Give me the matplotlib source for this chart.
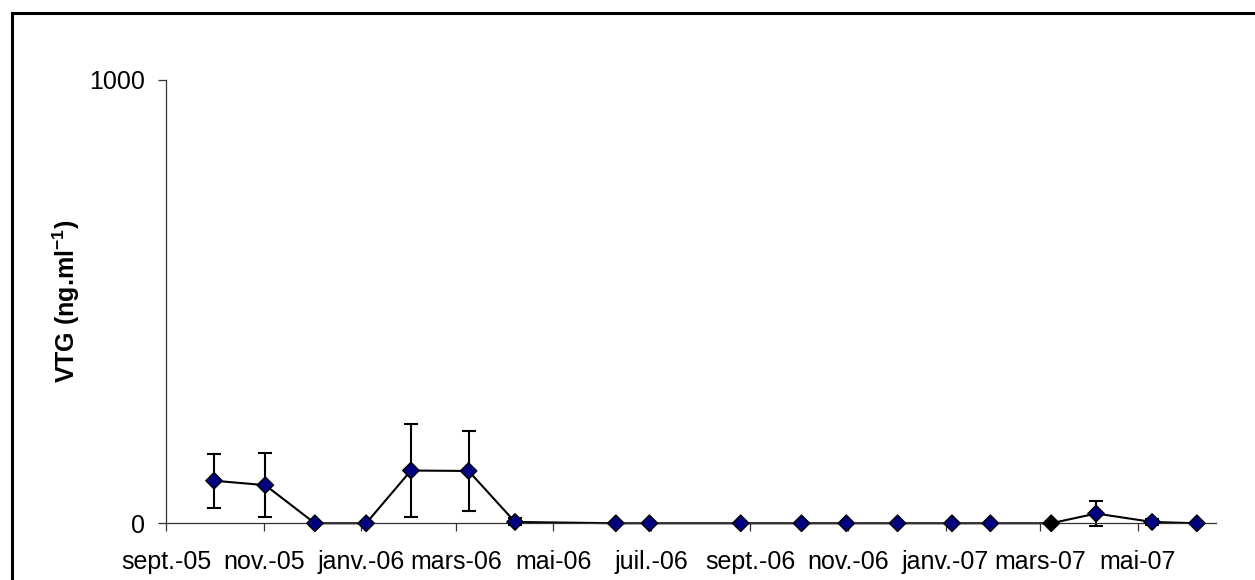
import datetime as dt
import matplotlib
matplotlib.use("Agg")
import matplotlib.pyplot as plt
from matplotlib.patches import Rectangle

plt.rcParams["font.family"] = ["Liberation Sans", "DejaVu Sans"]
plt.rcParams["mathtext.fontset"] = "custom"
plt.rcParams["mathtext.rm"] = "Liberation Sans"
plt.rcParams["mathtext.bf"] = "Liberation Sans:bold"

# sampling dates and VTG values (ng/ml) with error bars
dates = [
    "2005-10-01", "2005-11-02", "2005-12-03", "2006-01-04", "2006-02-01",
    "2006-03-09", "2006-04-07", "2006-06-09", "2006-06-30", "2006-08-26",
    "2006-10-03", "2006-10-31", "2006-12-02", "2007-01-05", "2007-01-29",
    "2007-03-08", "2007-04-05", "2007-05-10", "2007-06-07",
]
vtg = [96, 86, 0, 0, 119, 118, 3, 0, 0, 0, 0, 0, 0, 0, 0, 0, 22, 3, 0]
vtg_err = [61, 72, 0, 0, 104, 91, 8, 0, 0, 0, 0, 0, 0, 0, 0, 0, 28, 7, 0]
black_point = "2007-03-08"

tick_dates = [
    "2005-09-01", "2005-11-01", "2006-01-01", "2006-03-01", "2006-05-01",
    "2006-07-01", "2006-09-01", "2006-11-01", "2007-01-01", "2007-03-01",
    "2007-05-01",
]
tick_labels = [
    "sept.-05", "nov.-05", "janv.-06", "mars-06", "mai-06", "juil.-06",
    "sept.-06", "nov.-06", "janv.-07", "mars-07", "mai-07",
]


def to_date(s):
    return dt.datetime.strptime(s, "%Y-%m-%d")


x = [to_date(d) for d in dates]
xt = [to_date(d) for d in tick_dates]

fig = plt.figure(figsize=(12.55, 5.8), dpi=100)
ax = fig.add_axes([0.1323, 0.0978, 0.8367, 0.7643])

ax.errorbar(x, vtg, yerr=vtg_err, color="black", lw=1.5, capsize=5,
            capthick=1.5, elinewidth=1.5, marker="none", zorder=2,
            clip_on=False)
colors = ["black" if d == black_point else "#000080" for d in dates]
ax.scatter(x, vtg, marker="D", s=70, c=colors, edgecolors="black",
           linewidths=1.0, zorder=3, clip_on=False)

ax.set_xlim(to_date("2005-09-01"), to_date("2007-06-19"))
ax.set_ylim(0, 1000)
ax.set_yticks([0, 1000])
ax.set_xticks(xt)
ax.set_xticklabels(tick_labels)

for side in ["top", "right"]:
    ax.spines[side].set_visible(False)
for side in ["left", "bottom"]:
    ax.spines[side].set_linewidth(0.9)
    ax.spines[side].set_color("#333333")

ax.tick_params(axis="both", labelsize=18, length=6, width=0.9,
               color="#333333", direction="out")
ax.tick_params(axis="x", pad=13)
ax.tick_params(axis="y", pad=9)

ax.set_ylabel(r"VTG (ng.ml$^{\mathbf{-1}}$)", fontsize=18, fontweight="bold")
ax.yaxis.set_label_coords(-0.08, 0.5)

# outer chart border, partly outside the image like the original
fig.patches.append(Rectangle((12 / 1255, -0.2), 1.2, 1 - 13 / 580 + 0.2,
                             transform=fig.transFigure, fill=False,
                             lw=2.2, edgecolor="black"))

fig.savefig("out.png", dpi=100)
